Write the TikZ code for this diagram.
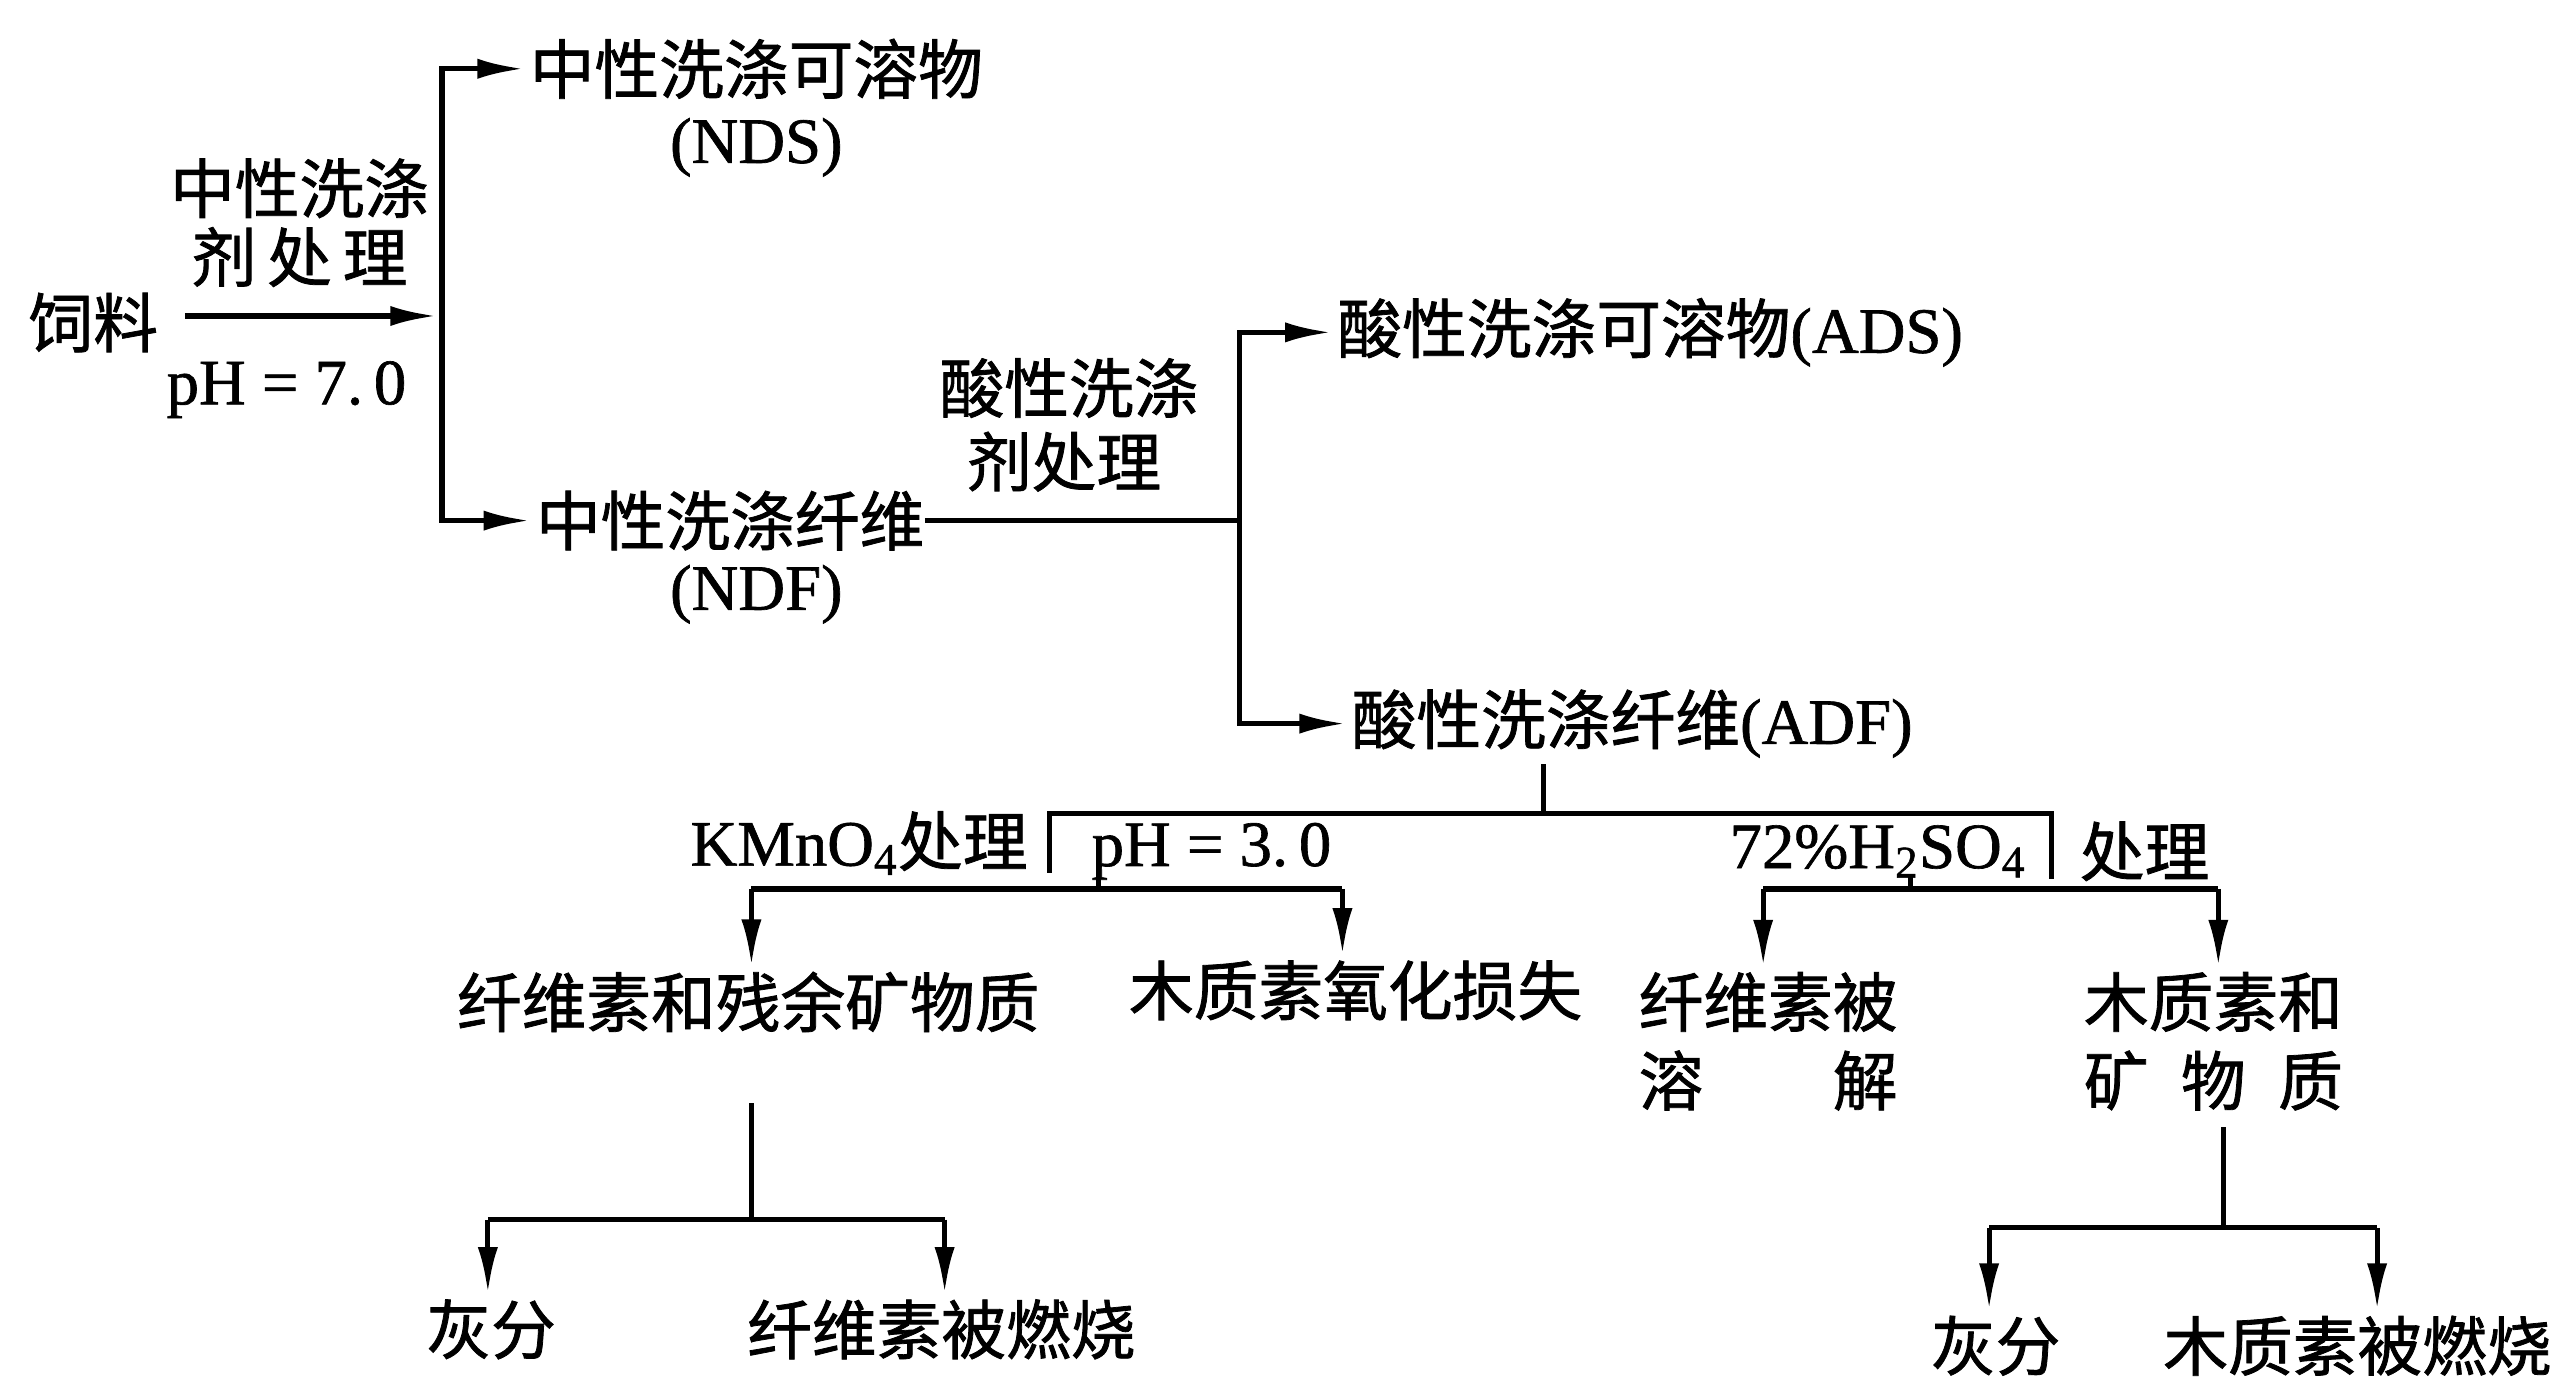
\documentclass[tikz,border=0pt]{standalone}
\usepackage{fontspec}
\setmainfont{Noto Sans CJK SC}[FakeBold=1.2]
\newfontfamily\lat{Liberation Serif}[FakeBold=1.0]
\usetikzlibrary{arrows.meta}
\begin{document}
\begin{tikzpicture}[x=0.02cm,y=-0.02cm,
  txt/.style={inner sep=0pt, font=\fontsize{22.5pt}{27pt}\selectfont},
  ln/.style={line width=1.8pt},
  arr/.style={ln,-{Latex[length=16pt,width=7pt]},shorten >=2pt}]
\useasboundingbox (0,0) rectangle (1568,846);
% nodes
\node[txt] (sl) at (57,197) {饲料};
\node[txt] (nds) at (462,42) {中性洗涤可溶物};
\node[txt] (ndsb) at (462,90) {\lat (NDS)};
\node[txt] (l1a) at (183,115) {中性洗涤};
\node[txt] (l1b) at (183,157) {剂\,处\,理};
\node[txt] (ph7) at (175,238) {\lat pH = 7.\,0};
\node[txt] (ndf) at (446,318) {中性洗涤纤维};
\node[txt] (ndfb) at (462,363) {\lat (NDF)};
\node[txt] (l2a) at (653,237) {酸性洗涤};
\node[txt] (l2b) at (650,282) {剂处理};
\node[txt] (ads) at (1008,203) {酸性洗涤可溶物{\lat (ADS)}};
\node[txt] (adf) at (997,442) {酸性洗涤纤维{\lat (ADF)}};
\node[txt,anchor=east] (kmn) at (628,515) {{\lat KMnO\textsubscript{4}}处理};
\node[txt] (ph3) at (740,520) {\lat pH = 3.\,0};
\node[txt] (h2so4) at (1147,520) {\lat 72\%H\textsubscript{2}SO\textsubscript{4}};
\node[txt] (cl2) at (1310,520) {处理};
\node[txt] (c1) at (457,612) {纤维素和残余矿物质};
\node[txt] (c2) at (828,605) {木质素氧化损失};
\node[txt] (c3) at (1080,612) {纤维素被};
\node[txt] (c3b) at (1080,660) {溶\hspace{2em}解};
\node[txt] (c4) at (1352,612) {木质素和};
\node[txt] (c4b) at (1352,660) {矿\hspace{0.5em}物\hspace{0.5em}质};
\node[txt] (d1) at (300,812) {灰分};
\node[txt] (d2) at (575,812) {纤维素被燃烧};
\node[txt] (d3) at (1219,822) {灰分};
\node[txt] (d4) at (1440,822) {木质素被燃烧};
% coordinates
\coordinate (a0) at (113,193);
\coordinate (j1) at (270,193);
\coordinate (j2) at (757,318);
\coordinate (k0) at (943,497);
\coordinate (bl) at (641,533);
\coordinate (br) at (1253,537);
\coordinate (tL) at (671,531);
\coordinate (tR) at (1167,535);
\coordinate (fL1) at (459,543);
\coordinate (fL2) at (820,543);
\coordinate (fR1) at (1077,543);
\coordinate (fR2) at (1355,543);
\coordinate (g1) at (459,745);
\coordinate (gL1) at (298,745);
\coordinate (gL2) at (577,745);
\coordinate (g2) at (1358,750);
\coordinate (gR1) at (1215,750);
\coordinate (gR2) at (1452,750);
% connectors
\draw[arr] (a0) -- (j1);
\draw[arr] (j1) |- (nds.west);
\draw[arr] (j1) |- (ndf.west);
\draw[ln] (ndf.east) -- (j2);
\draw[arr] (j2) |- (ads.west);
\draw[arr] (j2) |- (adf.west);
\draw[ln,shorten <=2pt] (adf.south -| k0) -- (k0);
\draw[ln] (bl) |- (k0) -| (br);
\draw[ln] (tL) -- (tL |- fL1);
\draw[ln] (tR) -- (tR |- fR1);
\draw[ln] (fL1) -- (fL2);
\draw[arr] (fL1) -- (fL1 |- c1.north);
\draw[arr] (fL2) -- (fL2 |- c2.north);
\draw[ln] (fR1) -- (fR2);
\draw[arr] (fR1) -- (fR1 |- c3.north);
\draw[arr] (fR2) -- (fR2 |- c4.north);
\draw[ln,shorten <=0.86cm] (c1.south -| g1) -- (g1);
\draw[ln] (gL1) -- (gL2);
\draw[arr] (gL1) -- (gL1 |- d1.north);
\draw[arr] (gL2) -- (gL2 |- d2.north);
\draw[ln,shorten <=0.2cm] (c4b.south -| g2) -- (g2);
\draw[ln] (gR1) -- (gR2);
\draw[arr] (gR1) -- (gR1 |- d3.north);
\draw[arr] (gR2) -- (gR2 |- d4.north);
\end{tikzpicture}
\end{document}
